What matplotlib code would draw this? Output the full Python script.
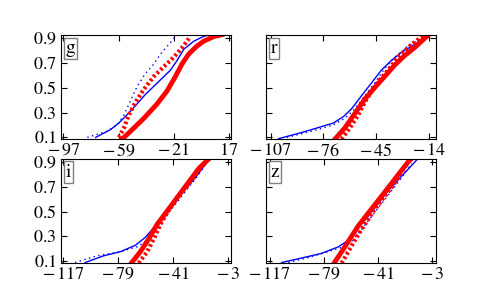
import matplotlib
matplotlib.use('Agg')
import matplotlib.pyplot as plt

plt.rcParams['font.family'] = ['STIXGeneral', 'Liberation Serif', 'DejaVu Serif']
plt.rcParams['mathtext.fontset'] = 'stix'

bands = ['g', 'r', 'i', 'z']

# x ticks and limits per band
xticks = {
    'g': [-97, -59, -21, 17],
    'r': [-107, -76, -45, -14],
    'i': [-117, -79, -41, -3],
    'z': [-117, -79, -41, -3],
}
xlims = {
    'g': (-98.9, 18.8),
    'r': (-109.9, -9.3),
    'i': (-118.6, -0.7),
    'z': (-119.8, 0.0),
}

# cumulative curves: (x values, y values)
blue_solid = {
    'g': ([-74.8, -64.5, -58.8, -53.0, -46.2, -40.4, -32.4, -23.3, -18.7, -14.1, -7.2, -0.4, 2.0],
          [0.10, 0.163, 0.215, 0.284, 0.37, 0.447, 0.537, 0.64, 0.718, 0.808, 0.873, 0.912, 0.92]),
    'r': ([-102.3, -92.5, -82.8, -70.1, -64.2, -59.3, -53.5, -47.6, -41.8, -35.9, -30.0, -22.2, -14.4],
          [0.09, 0.125, 0.163, 0.215, 0.266, 0.33, 0.434, 0.537, 0.64, 0.718, 0.783, 0.847, 0.92]),
    'i': ([-101.7, -89.0, -77.4, -67.0, -60.1, -54.3, -48.5, -41.6, -34.7, -26.6, -17.3, -15.0],
          [0.09, 0.144, 0.177, 0.229, 0.293, 0.371, 0.448, 0.552, 0.655, 0.758, 0.90, 0.92]),
    'z': ([-108.6, -94.6, -80.6, -68.9, -61.9, -54.9, -47.9, -40.8, -33.8, -24.5, -14.0],
          [0.09, 0.126, 0.164, 0.216, 0.268, 0.371, 0.461, 0.564, 0.668, 0.784, 0.913]),
}
blue_dotted = {
    'g': ([-80.5, -66.8, -59.9, -55.3, -50.7, -46.2, -40.4, -34.7, -30.1, -24.4, -19.8],
          [0.10, 0.15, 0.20, 0.28, 0.396, 0.51, 0.615, 0.69, 0.77, 0.847, 0.91]),
    'r': ([-97.4, -82.8, -70.1, -63.3, -57.4, -51.5, -45.7, -39.8, -34.0, -26.1, -16.4],
          [0.10, 0.15, 0.20, 0.253, 0.33, 0.434, 0.537, 0.653, 0.744, 0.834, 0.91]),
    'i': ([-108.7, -93.6, -77.4, -65.9, -59.0, -52.0, -45.1, -38.1, -31.2, -24.2, -17.3],
          [0.09, 0.144, 0.177, 0.216, 0.268, 0.358, 0.474, 0.577, 0.68, 0.784, 0.90]),
    'z': ([-103.9, -89.9, -75.9, -65.4, -58.4, -52.5, -45.5, -38.5, -31.5, -24.5, -17.5],
          [0.09, 0.13, 0.177, 0.216, 0.268, 0.358, 0.461, 0.564, 0.668, 0.77, 0.887]),
}
red_solid = {
    'g': ([-56.5, -50.7, -41.6, -32.4, -25.6, -19.8, -15.3, -10.7, -5.0, -0.4, 6.5, 12.2],
          [0.086, 0.15, 0.253, 0.37, 0.473, 0.59, 0.69, 0.77, 0.834, 0.873, 0.91, 0.925]),
    'r': ([-69.1, -63.3, -57.4, -51.5, -45.7, -39.8, -34.0, -28.1, -22.2, -14.4],
          [0.086, 0.176, 0.292, 0.408, 0.50, 0.59, 0.68, 0.757, 0.822, 0.92]),
    'i': ([-70.5, -63.6, -57.8, -52.0, -46.2, -40.4, -34.7, -28.9, -23.1, -17.3],
          [0.075, 0.177, 0.28, 0.397, 0.487, 0.577, 0.667, 0.758, 0.848, 0.913]),
    'z': ([-72.4, -66.5, -60.7, -54.9, -47.9, -40.8, -33.8, -26.8, -19.8, -18.0],
          [0.075, 0.177, 0.28, 0.384, 0.487, 0.59, 0.693, 0.797, 0.90, 0.92]),
}
red_dotted = {
    'g': ([-58.8, -55.3, -51.9, -47.3, -41.6, -34.7, -27.9, -21.0, -15.3, -9.5],
          [0.10, 0.176, 0.28, 0.383, 0.486, 0.59, 0.667, 0.744, 0.82, 0.91]),
    'r': ([-65.2, -60.3, -55.4, -51.5, -47.6, -42.7, -37.9, -32.0, -26.1, -20.3, -16.4],
          [0.086, 0.176, 0.28, 0.383, 0.473, 0.564, 0.64, 0.744, 0.822, 0.886, 0.92]),
    'i': ([-64.7, -58.9, -54.3, -49.7, -43.9, -38.1, -31.2, -25.4, -19.6],
          [0.086, 0.177, 0.28, 0.397, 0.513, 0.616, 0.706, 0.797, 0.887]),
    'z': ([-66.5, -61.9, -56.0, -50.2, -44.4, -38.5, -31.5, -25.7, -19.8],
          [0.086, 0.177, 0.293, 0.397, 0.50, 0.59, 0.693, 0.797, 0.90]),
}
yticks = [0.1, 0.3, 0.5, 0.7, 0.9]


def xlabel(t):
    # old mathtext style: spaced minus sign
    if t < 0:
        return r'$-\,%d$' % abs(t)
    return r'$%d$' % t


fig, axes = plt.subplots(2, 2, figsize=(4.85, 2.95), dpi=100)

for ax, band in zip(axes.flat, bands):
    ax.plot(*blue_solid[band], c='blue', lw=1)
    ax.plot(*blue_dotted[band], c='blue', lw=1, ls=(0, (1, 2.5)))
    ax.plot(*red_solid[band], c='red', lw=3.5)
    ax.plot(*red_dotted[band], c='red', lw=3, ls=(0, (0.6, 0.6)))

    ax.set_xlim(xlims[band])
    ax.set_ylim(0.09, 0.92)
    ax.set_xticks(xticks[band])
    ax.set_xticklabels([xlabel(t) for t in xticks[band]])
    ax.set_yticks(yticks)
    if band in ('r', 'z'):
        ax.set_yticklabels([])
    else:
        ax.set_yticklabels(['$%.1f$' % t for t in yticks])
    ax.tick_params(direction='in', top=True, right=True, labelsize=13, length=4)
    ax.tick_params(axis='x', pad=3)
    ax.tick_params(axis='y', pad=3)
    ax.text(0.03, 0.96, band, transform=ax.transAxes, fontsize=14, va='top', ha='left',
            bbox=dict(boxstyle='square,pad=0.1', fc='white', ec='gray'))

plt.savefig('out.png')
